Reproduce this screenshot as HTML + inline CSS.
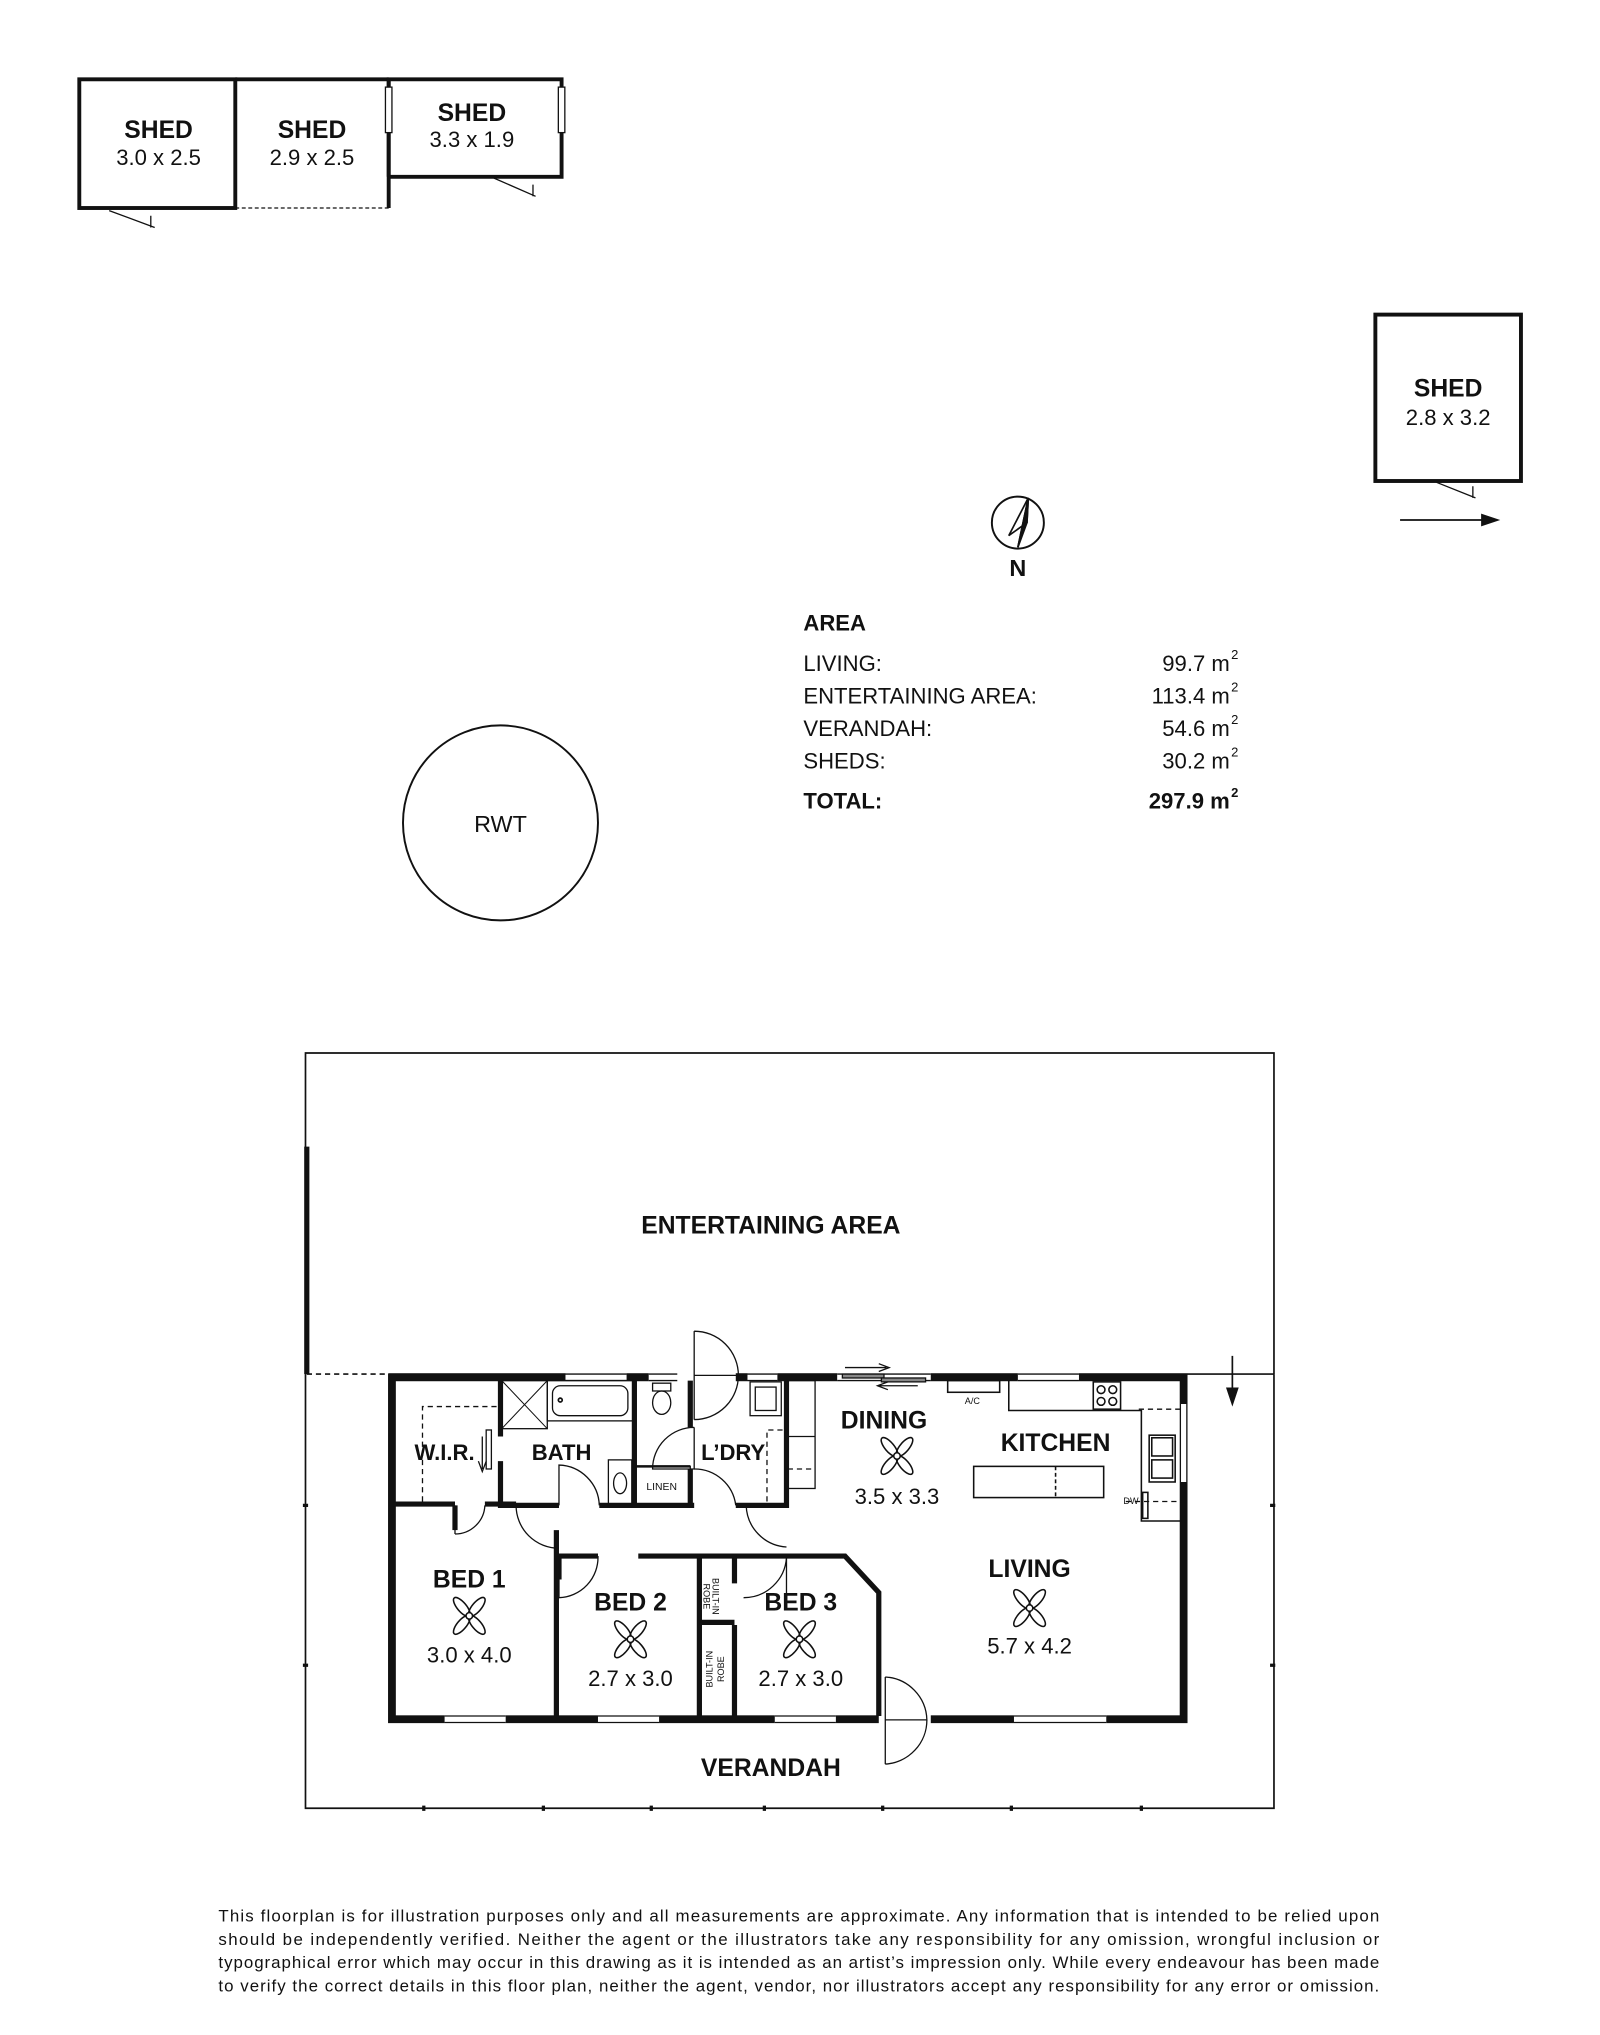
<!DOCTYPE html>
<html><head><meta charset="utf-8"><style>
html,body{margin:0;padding:0;background:#fff}
svg{display:block}
text{font-family:"Liberation Sans",sans-serif;fill:#111}
.b{font-weight:bold}
</style></head><body>
<svg width="1600" height="2035" viewBox="0 0 1230.8 1565.4" xmlns="http://www.w3.org/2000/svg">
<g fill="none" stroke="#111" stroke-width="1.3">
<!-- sheds -->
<rect x="61" y="61" width="120" height="99" stroke-width="3"/>
<path d="M181 61 H299 M299 61 V160" stroke-width="3"/>
<path d="M181 160 H299" stroke-dasharray="3 2" stroke-width="1"/>
<path d="M299 136 V61 H432 V136 H299" stroke-width="3"/>
<rect x="296.5" y="67" width="5" height="35" fill="#fff" stroke-width="1"/>
<rect x="429.5" y="67" width="5" height="35" fill="#fff" stroke-width="1"/>
<path d="M84 162 L119 175 M116 166 V175" stroke-width="1"/>
<path d="M380 137 L412 151 M410 142 V151" stroke-width="1"/>
<rect x="1058" y="242" width="112" height="128" stroke-width="3"/>
<path d="M1105 371 L1135 383 M1133 374 V383" stroke-width="1"/>
<path d="M1077 400 H1148"/><path d="M1140 396 L1152 400 L1140 404 Z" fill="#111"/>
<!-- north -->
<circle cx="783" cy="402" r="20" stroke-width="1.5"/>
<path d="M791 383 L776 412 L790 402 Z M791 383 L783 421" fill="#fff" stroke-width="1.3"/>
<path d="M791 383 L783 421 L790 402 Z" fill="#111"/>
<!-- RWT -->
<ellipse cx="385" cy="633" rx="75" ry="75" stroke-width="1.5"/>
<!-- entertaining -->
<path d="M235 1057 V810 H980 V1057"/>
<path d="M236 882 V1057" stroke-width="4"/>
<path d="M300 1057 H980"/>
<path d="M236 1057 H300" stroke-dasharray="4 3"/>
<!-- verandah -->
<path d="M235 1057 V1391 H980 V1057"/>
<g stroke-width="2.5"><path d="M233 1158 h4 M233 1281 h4 M977 1158 h4 M977 1281 h4 M326 1389 v4 M418 1389 v4 M501 1389 v4 M588 1389 v4 M679 1389 v4 M778 1389 v4 M878 1389 v4"/></g>
<!-- house outer -->
<rect x="301.5" y="1059.5" width="609" height="263" stroke-width="6"/>
<!-- windows -->
<g stroke="#fff" stroke-width="7">
<path d="M435 1059.5 H482 M499 1059.5 H521 M575 1059.5 H598 M783 1059.5 H830 M644 1059.5 H716"/>
<path d="M342 1322.5 H389 M460 1322.5 H507 M596 1322.5 H643 M780 1322.5 H851 M676 1322.5 H716 M518 1059.5 H566"/>
<path d="M910.5 1080 V1140"/>
</g>
<g stroke-width="1">
<path d="M435 1057 H482 M435 1062 H482 M499 1057 H521 M499 1062 H521 M575 1057 H598 M575 1062 H598 M783 1057 H830 M783 1062 H830"/>
<path d="M342 1320 H389 M342 1325 H389 M460 1320 H507 M460 1325 H507 M596 1320 H643 M596 1325 H643 M780 1320 H851 M780 1325 H851"/>
<path d="M908 1080 V1140 M913 1080 V1140"/>
<path d="M644 1057 H716 M644 1062 H716" />
<rect x="648" y="1057" width="32" height="3" fill="#888"/><rect x="678" y="1060" width="34" height="3" fill="#888"/>
<path d="M650 1052 H682 M676 1049 L684 1052 L676 1055 M706 1066 H676 M683 1063 L675 1066 L683 1069"/>
</g>
<!-- interior walls -->
<g stroke-width="4">
<path d="M385 1062 V1105 M385 1124 V1158"/>
<path d="M303 1157 H350 M373 1157 H397"/>
<path d="M383 1158 H430 M461 1158 H488 V1062 M488 1130 V1158 H531 M531 1062 V1098 M531 1130 V1158 M531 1158 H534 M566 1158 H605 V1062"/>
<path d="M350 1158 V1177"/>
<path d="M428 1177 V1320 M430 1197 H460 M491 1197 H650 L676 1225 V1320"/>
<path d="M538 1197 V1320 M565 1197 V1218 M565 1250 V1320"/>
<path d="M538 1248 H565 M430 1197 V1215"/>
</g>
<path d="M488 1128 H531 M538 1197 H565" stroke-width="2"/>
<rect x="489" y="1128" width="42" height="29" stroke-width="1"/>
<!-- dashed -->
<path d="M325 1155 V1082 H385 M590 1155 V1100 H603 M606 1130 H625 M866 1155 H910 M876 1084 H910" stroke-dasharray="4 3" stroke-width="1"/>
<!-- laundry bench -->
<rect x="605" y="1062" width="22" height="83" stroke-width="1"/><path d="M605 1105 H627" stroke-width="1"/>
<!-- bath fixtures -->
<rect x="386" y="1062" width="35" height="37" stroke-width="1"/><path d="M386 1062 L421 1099 M421 1062 L386 1099" stroke-width="0.8"/>
<rect x="421" y="1062" width="66" height="31" stroke-width="1"/><rect x="425" y="1066" width="58" height="23" rx="6" stroke-width="1"/>
<circle cx="431" cy="1077" r="1.5"/>
<rect x="468" y="1123" width="18" height="34" stroke-width="1"/><ellipse cx="477" cy="1141" rx="5" ry="8" stroke-width="1"/>
<rect x="502" y="1064" width="14" height="6" stroke-width="1"/><ellipse cx="509" cy="1079" rx="7" ry="9" stroke-width="1"/>
<rect x="577" y="1063" width="24" height="26" stroke-width="1"/><rect x="581" y="1067" width="16" height="18" stroke-width="1"/>
<!-- sliding wardrobe -->
<rect x="374" y="1100" width="4" height="30" stroke-width="1"/><path d="M371 1105 V1130 M368 1124 L371 1132 L374 1124" stroke-width="1"/>
<!-- doors -->
<g stroke-width="1">
<path d="M534 1024 V1092 M534 1024 A34 34 0 0 1 568 1058 H534 M534 1092 A34 34 0 0 0 568 1058"/>
<path d="M534 1098 V1130 H502 A32 32 0 0 1 534 1098"/>
<path d="M534 1130 A32 32 0 0 1 566 1158"/>
<path d="M461 1158 A32 32 0 0 0 430 1127 V1158"/>
<path d="M350 1180 V1158 M350 1180 A23 23 0 0 0 373 1158"/>
<path d="M397 1158 A33 33 0 0 0 430 1191 M430 1197 V1229 A31 31 0 0 0 460 1197"/>
<path d="M574 1158 A33 33 0 0 0 605 1190 M572 1229 A33 33 0 0 0 605 1198 V1226"/>
<path d="M681 1290 V1357 M681 1290 A34 34 0 0 1 713 1323 H681 M681 1357 A34 34 0 0 0 713 1323"/>
</g>
<!-- kitchen -->
<g stroke-width="1.2">
<rect x="729" y="1062" width="40" height="9"/>
<path d="M776 1062 V1085 H878 V1170 H910"/>
<rect x="841" y="1063" width="21" height="21"/>
<circle cx="847" cy="1069" r="3"/><circle cx="856" cy="1069" r="3"/><circle cx="847" cy="1078" r="3"/><circle cx="856" cy="1078" r="3"/>
<rect x="884" y="1104" width="20" height="36"/><rect x="886" y="1106" width="16" height="14"/><rect x="886" y="1123" width="16" height="14"/>
<rect x="879" y="1148" width="4" height="20"/>
<rect x="749" y="1128" width="100" height="24"/>
<path d="M812 1128 V1152" stroke-dasharray="3 2"/>
</g>
<!-- arrow right side -->
<path d="M948 1043 V1075" stroke-width="1.3"/><path d="M944 1068 L948 1080 L952 1068 Z" fill="#111"/>
</g>
<!-- fans -->
<defs><g id="fan" fill="none" stroke="#111" stroke-width="1.2">
<ellipse cx="0" cy="-9" rx="3.5" ry="9" transform="rotate(40)"/>
<ellipse cx="0" cy="-9" rx="3.5" ry="9" transform="rotate(-40)"/>
<ellipse cx="0" cy="9" rx="3.5" ry="9" transform="rotate(40)"/>
<ellipse cx="0" cy="9" rx="3.5" ry="9" transform="rotate(-40)"/>
<circle r="2.5" fill="#fff"/></g></defs>
<use href="#fan" x="690" y="1120"/>
<use href="#fan" x="361" y="1243"/>
<use href="#fan" x="485" y="1261"/>
<use href="#fan" x="615" y="1261"/>
<use href="#fan" x="792" y="1237"/>
<!-- labels -->
<g class="b" font-size="19" text-anchor="middle">
<text x="122" y="106">SHED</text>
<text x="240" y="106">SHED</text>
<text x="363" y="93">SHED</text>
<text x="1114" y="305">SHED</text>
<text x="783" y="443" font-size="18">N</text>
<text x="593" y="949">ENTERTAINING AREA</text>
<text x="680" y="1099">DINING</text>
<text x="812" y="1116">KITCHEN</text>
<text x="342" y="1123" font-size="17">W.I.R.</text>
<text x="432" y="1123" font-size="17">BATH</text>
<text x="564" y="1123" font-size="17">L’DRY</text>
<text x="361" y="1221">BED 1</text>
<text x="485" y="1239">BED 2</text>
<text x="616" y="1239">BED 3</text>
<text x="792" y="1213">LIVING</text>
<text x="593" y="1366">VERANDAH</text>
</g>
<g font-size="17" text-anchor="middle">
<text x="122" y="127">3.0 x 2.5</text>
<text x="240" y="127">2.9 x 2.5</text>
<text x="363" y="113">3.3 x 1.9</text>
<text x="1114" y="327">2.8 x 3.2</text>
<text x="385" y="640" font-size="18">RWT</text>
<text x="690" y="1157">3.5 x 3.3</text>
<text x="361" y="1279">3.0 x 4.0</text>
<text x="485" y="1297">2.7 x 3.0</text>
<text x="616" y="1297">2.7 x 3.0</text>
<text x="792" y="1272">5.7 x 4.2</text>
</g>
<g font-size="7" text-anchor="middle">
<text x="509" y="1146" font-size="8">LINEN</text>
<text x="748" y="1080">A/C</text>
<text x="870" y="1157">DW</text>
<text transform="translate(548 1228) rotate(90)" font-size="7">BUILT-IN</text>
<text transform="translate(541 1228) rotate(90)" font-size="7">ROBE</text>
<text transform="translate(548 1284) rotate(-90)" font-size="7">BUILT-IN</text>
<text transform="translate(557 1284) rotate(-90)" font-size="7">ROBE</text>
</g>
<!-- area table -->
<g font-size="17">
<text x="618" y="485" class="b">AREA</text>
<text x="618" y="516">LIVING:</text>
<text x="618" y="541">ENTERTAINING AREA:</text>
<text x="618" y="566">VERANDAH:</text>
<text x="618" y="591">SHEDS:</text>
<text x="618" y="622" class="b">TOTAL:</text>
<g text-anchor="end">
<text x="946" y="516">99.7 m</text><text x="946" y="541">113.4 m</text><text x="946" y="566">54.6 m</text><text x="946" y="591">30.2 m</text><text x="946" y="622" class="b">297.9 m</text>
</g>
<g font-size="10"><text x="947" y="507">2</text><text x="947" y="532">2</text><text x="947" y="557">2</text><text x="947" y="582">2</text><text x="947" y="613" class="b">2</text></g>
</g>
<!-- disclaimer -->
<g font-size="13">
<text x="168" y="1478" textLength="893" lengthAdjust="spacing">This floorplan is for illustration purposes only and all measurements are approximate. Any information that is intended to be relied upon</text>
<text x="168" y="1496" textLength="893" lengthAdjust="spacing">should be independently verified. Neither the agent or the illustrators take any responsibility for any omission, wrongful inclusion or</text>
<text x="168" y="1514" textLength="893" lengthAdjust="spacing">typographical error which may occur in this drawing as it is intended as an artist’s impression only. While every endeavour has been made</text>
<text x="168" y="1532" textLength="893" lengthAdjust="spacing">to verify the correct details in this floor plan, neither the agent, vendor, nor illustrators accept any responsibility for any error or omission.</text>
</g>
</svg>
</body></html>
